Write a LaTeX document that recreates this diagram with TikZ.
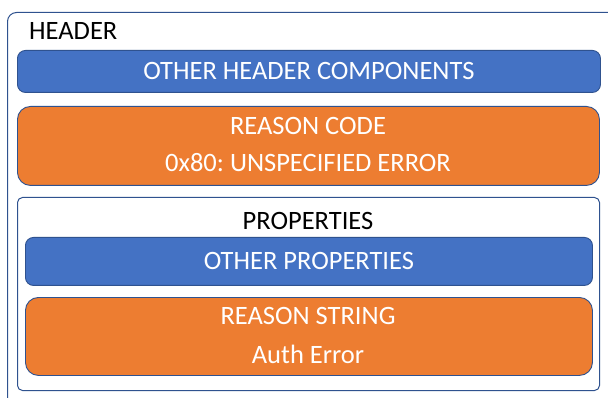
\documentclass[tikz,border=0pt]{standalone}
\usepackage{fontspec}
\setmainfont{Carlito}
\definecolor{hdrblue}{HTML}{4472C4}
\definecolor{rsnorange}{HTML}{ED7D31}
\definecolor{edgeblue}{HTML}{2F528F}
\begin{document}
\frenchspacing
\begin{tikzpicture}[x=1pt,y=-1pt,
  panel/.style={draw=edgeblue, line width=1pt, fill=white, inner sep=0pt, anchor=north west},
  bluebar/.style={draw=edgeblue, line width=0.9pt, fill=hdrblue, rounded corners=8pt, inner sep=0pt, anchor=north west},
  orangebar/.style={draw=edgeblue, line width=0.9pt, fill=rsnorange, rounded corners=13pt, inner sep=0pt, anchor=north west},
  lbl/.style={font=\fontsize{26.5}{31}\selectfont, inner sep=0pt, anchor=base},
  wlbl/.style={lbl, text=white}]
\useasboundingbox (0,0) rectangle (608,398);
\clip (0,0) rectangle (608,398);

% outer header frame (runs past the page edge on the right and bottom)
\node[panel, rounded corners=9pt, minimum width=610pt, minimum height=400pt] (outer) at (7,12) {};
\node[lbl, anchor=base west] (hdrlbl) at (29,39.5) {HEADER};

% header bars
\node[bluebar, minimum width=583pt, minimum height=42pt] (hdrbar) at (17,50) {};
\node[wlbl] (hdrtxt) at ([yshift=-8.5pt]hdrbar.center) {OTHER HEADER COMPONENTS};

\node[orangebar, minimum width=582pt, minimum height=79pt] (codebar) at (17,106) {};
\node[wlbl] (codetxt) at (308,134.5) {REASON CODE};
\node[wlbl] (codeval) at (308,171.5) {0x80: UNSPECIFIED ERROR};

% properties frame
\node[panel, rounded corners=5pt, minimum width=582pt, minimum height=193pt] (props) at (17,197) {};
\node[lbl] (propslbl) at (308,229.5) {PROPERTIES};

\node[bluebar, minimum width=567pt, minimum height=48pt] (propbar) at (25,237) {};
\node[wlbl] (proptxt) at ([yshift=-8.5pt]propbar.center) {OTHER PROPERTIES};

\node[orangebar, minimum width=567pt, minimum height=78pt] (strbar) at (25,297) {};
\node[wlbl] (strtxt) at (308,324.5) {REASON STRING};
\node[wlbl] (strval) at (308,363.5) {Auth Error};
\end{tikzpicture}
\end{document}
